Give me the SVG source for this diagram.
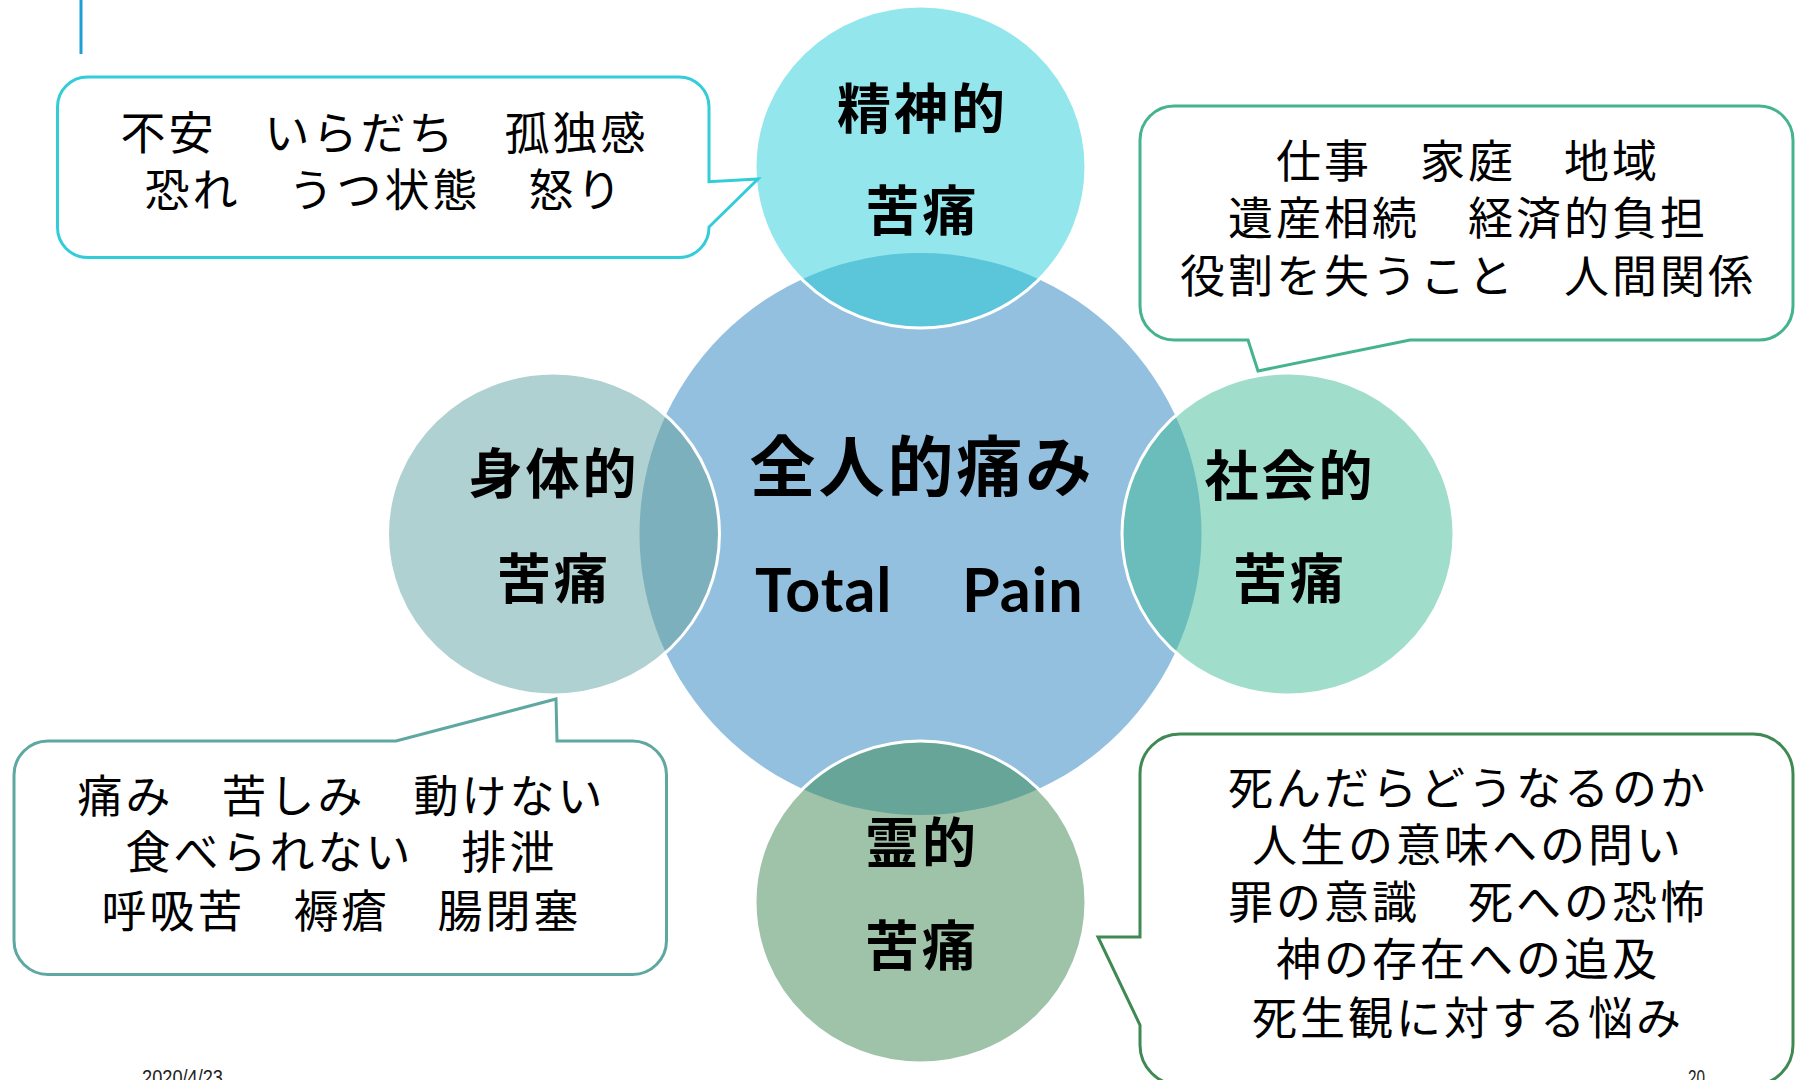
<svg xmlns="http://www.w3.org/2000/svg" width="1802" height="1080" viewBox="0 0 1802 1080">
<style>
.lbl{font-family:"Noto Sans CJK JP","Noto Sans CJK SC",sans-serif;font-weight:bold;font-size:54px;letter-spacing:3px;text-anchor:middle;fill:#000}
.ct{font-family:"Noto Sans CJK JP","Noto Sans CJK SC",sans-serif;font-size:45px;letter-spacing:3px;text-anchor:middle;fill:#000}
.bub{fill:#fff;stroke-width:3;stroke-linejoin:miter}
.edge{fill:none;stroke:#fff;stroke-width:3}
.foot{font-family:"Liberation Sans",sans-serif;font-size:22px;fill:#222}
</style>
<defs>
<clipPath id="cTop"><ellipse cx="920.5" cy="167" rx="165.5" ry="161"/></clipPath>
<clipPath id="cLeft"><ellipse cx="553.5" cy="534" rx="166" ry="161"/></clipPath>
<clipPath id="cRight"><ellipse cx="1288" cy="534" rx="166" ry="161"/></clipPath>
<clipPath id="cBot"><ellipse cx="920.5" cy="902" rx="165.5" ry="161"/></clipPath>
</defs>
<rect width="1802" height="1080" fill="#fff"/>
<line x1="81" y1="0" x2="81" y2="54" stroke="#1E9FD6" stroke-width="3"/>

<g id="center">
<circle cx="920.5" cy="534" r="281" fill="#94C0E0"/>
</g>

<g id="node-seishin">
<ellipse cx="920.5" cy="167" rx="165.5" ry="161" fill="#93E6EC"/>
<circle cx="920.5" cy="534" r="281" fill="#5BC5DA" clip-path="url(#cTop)"/>
<ellipse class="edge" cx="920.5" cy="167" rx="165.5" ry="161"/>
<text class="lbl" x="922.5" y="128.5">精神的</text>
<text class="lbl" x="922.5" y="230.5">苦痛</text>
</g>

<g id="node-shintai">
<ellipse cx="553.5" cy="534" rx="166" ry="161" fill="#B0D1D1"/>
<circle cx="920.5" cy="534" r="281" fill="#7BB0BC" clip-path="url(#cLeft)"/>
<ellipse class="edge" cx="553.5" cy="534" rx="166" ry="161"/>
<text class="lbl" x="554" y="494">身体的</text>
<text class="lbl" x="554" y="598.5">苦痛</text>
</g>

<g id="node-shakai">
<ellipse cx="1288" cy="534" rx="166" ry="161" fill="#A0DDCB"/>
<circle cx="920.5" cy="534" r="281" fill="#6BBDBC" clip-path="url(#cRight)"/>
<ellipse class="edge" cx="1288" cy="534" rx="166" ry="161"/>
<text class="lbl" x="1290" y="495.5">社会的</text>
<text class="lbl" x="1290" y="598.5">苦痛</text>
</g>

<g id="node-rei">
<ellipse cx="920.5" cy="902" rx="165.5" ry="161" fill="#9EC3A8"/>
<circle cx="920.5" cy="534" r="281" fill="#67A598" clip-path="url(#cBot)"/>
<ellipse class="edge" cx="920.5" cy="902" rx="165.5" ry="161"/>
<text class="lbl" x="922" y="862.5">霊的</text>
<text class="lbl" x="922" y="965.5">苦痛</text>
</g>

<g id="center-label">
<text class="lbl" x="922" y="491" style="font-size:66px">全人的痛み</text>
<text x="755" y="612" style="font-family:Lato,'Liberation Sans',sans-serif;font-weight:bold;font-size:61px;letter-spacing:1px;fill:#000"><tspan x="755">Total</tspan><tspan x="962">Pain</tspan></text>
</g>

<g id="callout-seishin">
<path class="bub" stroke="#33CCD9" d="M87.5,77 H679 A30,30 0 0 1 709,107 V181.7 L758,179 L709,227 A30,30 0 0 1 679,257.5 H87.5 A30,30 0 0 1 57.5,227.5 V107 A30,30 0 0 1 87.5,77 Z"/>
<text class="ct" x="384.5" y="150">不安　いらだち　孤独感</text>
<text class="ct" x="384.5" y="207">恐れ　うつ状態　怒り</text>
</g>

<g id="callout-shakai">
<path class="bub" stroke="#45B48E" d="M1174,106 H1759 A34,34 0 0 1 1793,140 V306 A34,34 0 0 1 1759,340 H1410 L1258,371 L1248,340 H1174 A34,34 0 0 1 1140,306 V140 A34,34 0 0 1 1174,106 Z"/>
<text class="ct" x="1468" y="178">仕事　家庭　地域</text>
<text class="ct" x="1468" y="234.5">遺産相続　経済的負担</text>
<text class="ct" x="1468" y="293">役割を失うこと　人間関係</text>
</g>

<g id="callout-shintai">
<path class="bub" stroke="#5FA8A2" d="M48,741 H396 L556,699 L557,741 H632.5 A34,34 0 0 1 666.5,775 V940.5 A34,34 0 0 1 632.5,974.5 H48 A34,34 0 0 1 14,940.5 V775 A34,34 0 0 1 48,741 Z"/>
<text class="ct" x="341.5" y="813">痛み　苦しみ　動けない</text>
<text class="ct" x="341.5" y="869">食べられない　排泄</text>
<text class="ct" x="341.5" y="928">呼吸苦　褥瘡　腸閉塞</text>
</g>

<g id="callout-rei">
<path class="bub" stroke="#3E8A52" d="M1180,734 H1753 A40,40 0 0 1 1793,774 V1045 A40,40 0 0 1 1753,1085 H1180 A40,40 0 0 1 1140,1045 V1025 L1098,937 L1140,937 V774 A40,40 0 0 1 1180,734 Z"/>
<text class="ct" x="1468" y="805">死んだらどうなるのか</text>
<text class="ct" x="1468" y="862">人生の意味への問い</text>
<text class="ct" x="1468" y="919">罪の意識　死への恐怖</text>
<text class="ct" x="1468" y="976">神の存在への追及</text>
<text class="ct" x="1468" y="1035">死生観に対する悩み</text>
</g>

<g id="connectors"></g>

<g id="footer">
<text class="foot" x="142" y="1085" textLength="81" lengthAdjust="spacingAndGlyphs">2020/4/23</text>
<text class="foot" x="1688" y="1085" textLength="17" lengthAdjust="spacingAndGlyphs">20</text>
</g>
</svg>
